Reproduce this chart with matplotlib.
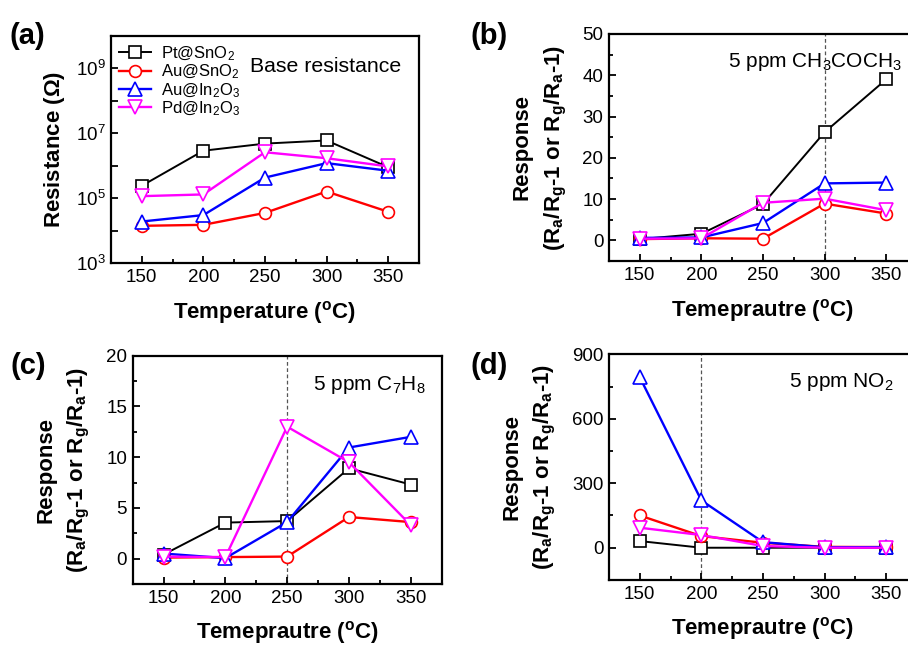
import numpy as np
import matplotlib
matplotlib.use('Agg')
import matplotlib.pyplot as plt
from matplotlib.ticker import MultipleLocator, LogLocator, FixedLocator, NullFormatter

plt.rcParams['font.family'] = ['Liberation Sans', 'DejaVu Sans']
plt.rcParams['mathtext.default'] = 'regular'

# data
temps = [150, 200, 250, 300, 350]
names = ['Pt@SnO$_2$', 'Au@SnO$_2$', 'Au@In$_2$O$_3$', 'Pd@In$_2$O$_3$']

# (a) base resistance (ohm)
res_pt_sno2 = [2.4e5, 2.9e6, 4.8e6, 6.0e6, 9.0e5]
res_au_sno2 = [1.4e4, 1.5e4, 3.5e4, 1.6e5, 3.8e4]
res_au_in2o3 = [1.9e4, 3.0e4, 4.3e5, 1.2e6, 7.0e5]
res_pd_in2o3 = [1.15e5, 1.3e5, 2.6e6, 1.7e6, 9.5e5]

# (b) 5 ppm acetone
ace_pt_sno2 = [0.3, 1.6, 8.8, 26.2, 39.0]
ace_au_sno2 = [0.3, 0.5, 0.4, 8.9, 6.5]
ace_au_in2o3 = [0.6, 0.7, 4.2, 13.8, 14.0]
ace_pd_in2o3 = [0.4, 0.5, 9.1, 10.1, 7.3]

# (c) 5 ppm toluene
tol_pt_sno2 = [0.4, 3.55, 3.7, 8.9, 7.3]
tol_au_sno2 = [0.1, 0.15, 0.2, 4.1, 3.6]
tol_au_in2o3 = [0.5, 0.05, 3.6, 10.95, 12.0]
tol_pd_in2o3 = [0.2, 0.15, 13.0, 9.5, 3.3]

# (d) 5 ppm NO2
no2_pt_sno2 = [31, 0, 0, 0, 0]
no2_au_sno2 = [150, 54, 23, 4, 3]
no2_au_in2o3 = [793, 220, 26, 2, 3]
no2_pd_in2o3 = [93, 59, 8, 0, 0]

colors = ['black', '#ff0000', '#0000ff', '#ff00ff']
markers = ['s', 'o', '^', 'v']
msizes = [8, 8.5, 9.5, 9.5]

resp_label = 'Response\n(R$_a$/R$_g$-1 or R$_g$/R$_a$-1)'
temp_label2 = 'Temeprautre ($^o$C)'


def style(ax):
    for s in ax.spines.values():
        s.set_linewidth(1.6)
    ax.set_xlim(125, 375)
    ax.xaxis.set_major_locator(MultipleLocator(50))
    ax.xaxis.set_minor_locator(MultipleLocator(25))
    ax.tick_params(which='both', direction='in', top=False, right=False, labelsize=13.5, width=1.3, pad=4)
    ax.tick_params(which='major', length=5)
    ax.tick_params(which='minor', length=3)


def draw(ax, series):
    for ys, c, m, ms, nm in zip(series, colors, markers, msizes, names):
        ax.plot(temps, ys, color=c, marker=m, markersize=ms, markerfacecolor='white',
                markeredgecolor=c, markeredgewidth=1.2, linewidth=1.7 if c != 'black' else 1.4, label=nm)


fig = plt.figure(figsize=(9.08, 6.46), dpi=100)

# (a)
axa = fig.add_axes([0.1222, 0.5929, 0.3392, 0.3514])
draw(axa, [res_pt_sno2, res_au_sno2, res_au_in2o3, res_pd_in2o3])
axa.set_yscale('log')
axa.set_ylim(1e3, 1e10)
axa.yaxis.set_major_locator(FixedLocator([1e3, 1e5, 1e7, 1e9]))
axa.yaxis.set_minor_locator(FixedLocator([1e4, 1e6, 1e8, 1e10]))
axa.yaxis.set_minor_formatter(NullFormatter())
style(axa)
axa.tick_params(axis='y', which='minor', length=5)
axa.set_xlabel('Temperature ($^o$C)', fontsize=16, fontweight='bold', labelpad=10)
axa.set_ylabel('Resistance ($\\Omega$)', fontsize=16, fontweight='bold', labelpad=6)
axa.legend(loc='upper left', bbox_to_anchor=(0.0, 1.0), frameon=False, fontsize=12,
           handlelength=1.9, handletextpad=0.6, labelspacing=0.0, borderpad=0.3, borderaxespad=0.2)
axa.text(0.45, 0.865, 'Base resistance', transform=axa.transAxes, fontsize=15.3, va='center')

# (b)
axb = fig.add_axes([0.6707, 0.5960, 0.3392, 0.3514])
draw(axb, [ace_pt_sno2, ace_au_sno2, ace_au_in2o3, ace_pd_in2o3])
axb.axvline(300, color='#555555', linestyle=(0, (3, 2)), linewidth=0.9, zorder=0)
axb.set_ylim(-5, 50)
axb.yaxis.set_major_locator(MultipleLocator(10))
axb.yaxis.set_minor_locator(MultipleLocator(5))
style(axb)
axb.set_xlabel(temp_label2, fontsize=16, fontweight='bold', labelpad=10)
axb.set_ylabel(resp_label, fontsize=16, fontweight='bold', labelpad=10, linespacing=1.55)
axb.text(0.385, 0.875, '5 ppm CH$_3$COCH$_3$', transform=axb.transAxes, fontsize=15, va='center')

# (c)
axc = fig.add_axes([0.1461, 0.0960, 0.3403, 0.3534])
draw(axc, [tol_pt_sno2, tol_au_sno2, tol_au_in2o3, tol_pd_in2o3])
axc.axvline(250, color='#555555', linestyle=(0, (3, 2)), linewidth=0.9, zorder=0)
axc.set_ylim(-2.5, 20)
axc.yaxis.set_major_locator(MultipleLocator(5))
axc.yaxis.set_minor_locator(MultipleLocator(2.5))
style(axc)
axc.set_xlabel(temp_label2, fontsize=16, fontweight='bold', labelpad=9)
axc.set_ylabel(resp_label, fontsize=16, fontweight='bold', labelpad=10, linespacing=1.55)
axc.text(0.585, 0.87, '5 ppm C$_7$H$_8$', transform=axc.transAxes, fontsize=15, va='center')

# (d)
axd = fig.add_axes([0.6707, 0.1022, 0.3392, 0.3494])
draw(axd, [no2_pt_sno2, no2_au_sno2, no2_au_in2o3, no2_pd_in2o3])
axd.axvline(200, color='#555555', linestyle=(0, (3, 2)), linewidth=0.9, zorder=0)
axd.set_ylim(-150, 900)
axd.yaxis.set_major_locator(MultipleLocator(300))
axd.yaxis.set_minor_locator(MultipleLocator(150))
style(axd)
axd.set_xlabel(temp_label2, fontsize=16, fontweight='bold', labelpad=9)
axd.set_ylabel(resp_label, fontsize=16, fontweight='bold', labelpad=10, linespacing=1.55)
axd.text(0.585, 0.875, '5 ppm NO$_2$', transform=axd.transAxes, fontsize=15, va='center')

# panel letters
for lbl, x, y in [('(a)', 0.010, 0.945), ('(b)', 0.518, 0.945), ('(c)', 0.012, 0.433), ('(d)', 0.518, 0.433)]:
    fig.text(x, y, lbl, fontsize=21, fontweight='bold', va='center')

fig.savefig('out.png', dpi=100)
